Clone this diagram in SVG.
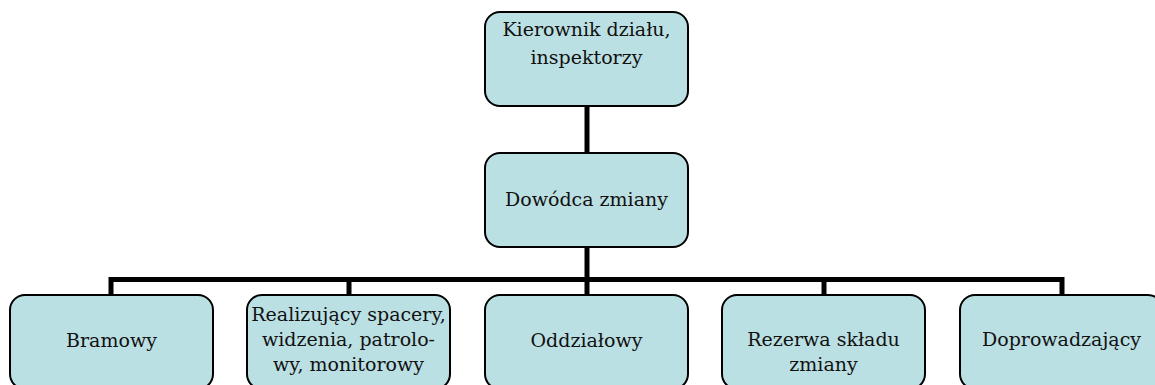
<svg xmlns="http://www.w3.org/2000/svg" width="1155" height="385" viewBox="0 0 1155 385">
<style>
.box{fill:#bbe0e3;stroke:#000;stroke-width:2}
.t{font-family:"DejaVu Serif","Liberation Serif",serif;font-size:19px;fill:#111;text-anchor:middle}
.c{stroke:#000;stroke-width:5;fill:none}
</style>
<rect width="1155" height="385" fill="#fff"/>
<g id="connectors">
<line class="c" x1="587" y1="106" x2="587" y2="153"/>
<line class="c" x1="587" y1="247" x2="587" y2="295"/>
<polyline class="c" points="111,295 111,279.5 1062,279.5 1062,295"/>
<line class="c" x1="349" y1="279" x2="349" y2="295"/>
<line class="c" x1="824" y1="279" x2="824" y2="295"/>
</g>
<g id="n-kierownik">
<rect class="box" x="485" y="12" width="203" height="94" rx="15"/>
<text class="t" x="586.5" y="36">Kierownik działu,</text>
<text class="t" x="586.5" y="64">inspektorzy</text>
</g>
<g id="n-dowodca">
<rect class="box" x="485" y="153" width="203" height="94" rx="15"/>
<text class="t" x="586.5" y="206">Dowódca zmiany</text>
</g>
<g id="n-bramowy">
<rect class="box" x="10" y="295" width="203" height="94" rx="15"/>
<text class="t" x="111.5" y="347">Bramowy</text>
</g>
<g id="n-realizujacy">
<rect class="box" x="247" y="295" width="203" height="94" rx="15"/>
<text class="t" x="348.5" y="321">Realizujący spacery,</text>
<text class="t" x="348.5" y="346">widzenia, patrolo-</text>
<text class="t" x="348.5" y="371">wy, monitorowy</text>
</g>
<g id="n-oddzialowy">
<rect class="box" x="485" y="295" width="203" height="94" rx="15"/>
<text class="t" x="586.5" y="347">Oddziałowy</text>
</g>
<g id="n-rezerwa">
<rect class="box" x="722" y="295" width="203" height="94" rx="15"/>
<text class="t" x="823.5" y="346">Rezerwa składu</text>
<text class="t" x="823.5" y="371">zmiany</text>
</g>
<g id="n-doprowadzajacy">
<rect class="box" x="960" y="295" width="203" height="94" rx="15"/>
<text class="t" x="1061.5" y="346">Doprowadzający</text>
</g>
</svg>
